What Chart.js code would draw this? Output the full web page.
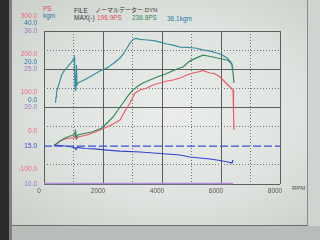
<!DOCTYPE html>
<html>
<head>
<meta charset="utf-8">
<script src="https://cdn.jsdelivr.net/npm/chart.js@4"></script>
<style>
  html, body { margin: 0; padding: 0; }
  body { width: 320px; height: 240px; overflow: hidden; position: relative; background: #b9bdb9;
         font-family: "Liberation Sans", "Noto Sans CJK JP", sans-serif; }
  #edge { position: absolute; left: 0; top: 0; width: 9px; height: 240px; background: #2b2b2b; }
  #edge2 { position: absolute; left: 9px; top: 0; width: 3px; height: 240px; background: #7d807d; }
  #paper { position: absolute; left: 12px; top: 0; width: 295px; height: 225px;
           background: radial-gradient(ellipse at 55% 50%, #eaede9 0%, #dfe3df 55%, #cacfca 100%);
           border-right: 1px solid #8a8d8a; border-bottom: 1px solid #6a6d6a; }
  #side { position: absolute; left: 308px; top: 0; width: 12px; height: 226px; background: #d0d4d0; }
  .t { position: absolute; font-size: 6.5px; line-height: 7px; white-space: nowrap; }
  #wrap { position: absolute; left: 0; top: 0; width: 320px; height: 240px; }
</style>
</head>
<body>
<div id="edge"></div><div id="edge2"></div><div id="paper"></div><div id="side"></div>

<div class="t" style="left:43px;top:5px;color:#e04858;">PS</div>
<div class="t" style="left:43px;top:12px;color:#2a74a8;">kgm</div>
<div class="t" style="left:74px;top:7px;color:#333;">FILE</div>
<div class="t" style="left:95px;top:6px;color:#333;font-size:6px;line-height:8px;">ノーマルデーター.DYN</div>
<div class="t" style="left:74px;top:14px;color:#333;">MAX(-)</div>
<div class="t" style="left:97px;top:14px;color:#e04858;">196.9PS</div>
<div class="t" style="left:132px;top:14px;color:#2f8a55;">236.8PS</div>
<div class="t" style="left:167px;top:15px;color:#2a7aa0;">36.1kgm</div>
<div class="t" style="left:292px;top:185px;color:#555;font-size:6px;">RPM</div>

<div id="wrap"><canvas id="dyno" width="320" height="240"></canvas></div>

<script>
// Vermogen (PS) - rode lijn
const redRpm = [339,542,712,881,1017,1068,1095,1153,1458,1729,1932,2136,2339,2576,2746,2915,3017,3085,3254,3492,
                3695,3932,4169,4373,4610,4847,5051,5220,5390,5525,5627,5763,5864,5966,6068,6203,6305,6407,6424,6441];
const redPs = [0,12.5,17.7,20.3,20.3,28.1,17.7,22.9,28.1,36.0,42.5,49.0,56.9,67.4,91.0,111.8,127.5,138.0,145.8,151.0,
               158.9,164.1,169.3,171.9,177.1,185.0,190.2,192.8,196.9,192.8,190.2,189.0,185.0,179.8,171.9,161.5,153.6,145.8,93.5,41.2];

// Vermogen (PS) - groene lijn
const greenRpm = [339,542,712,881,1017,1068,1095,1136,1288,1458,1627,1797,1966,2102,2237,2339,2508,2678,2847,3017,
                  3186,3356,3593,3831,4034,4271,4508,4712,4949,5153,5390,5559,5729,5864,6034,6203,6305,6373,6407,6441];
const greenPs = [0,12.5,20.3,25.5,28.1,38.6,20.3,28.1,30.8,33.4,36.0,41.2,46.4,56.9,67.4,75.2,93.5,111.8,130.1,145.8,
                 156.2,164.1,171.9,179.8,185.0,192.8,200.7,205.9,222.0,229.0,236.8,234.7,232.0,229.4,226.8,224.2,219.0,211.1,190.2,164.1];

// Koppel (kgm)
const torqueRpm = [390,407,424,475,525,600,678,770,847,939,1000,1027,1037,1051,1078,1102,1119,1153,1220,1424,
                   1661,1898,2136,2373,2576,2712,2814,2915,3017,3119,3254,3492,3729,3932,4169,4373,4610,4847,5119,5390,
                   5627,5864,6034,6203,6305,6373,6410];
const torqueKgm = [2.4,5.5,8.1,10.7,13.3,17.0,19.1,20.7,22.2,23.8,25.4,26.4,19.6,9.1,15.4,22.2,11.8,12.8,13.3,14.9,
                   17.0,19.1,20.7,23.3,25.9,28.5,31.1,33.7,35.6,36.1,35.6,35.3,35.0,34.2,33.2,32.6,31.6,31.4,31.1,30.1,
                   29.5,28.5,27.5,25.9,24.3,22.7,19.6];

// AFR (blauw) + referentielijn + onderlijn
const afrRpm = [339,542,746,949,1051,1085,1119,1390,1729,2136,2576,3254,3932,4610,4949,5288,5627,5966,6237,6373,6407];
const afrVal = [15.10,15.03,14.97,14.84,14.71,14.51,14.77,14.64,14.58,14.44,14.31,14.18,13.99,13.79,13.53,13.40,13.27,13.07,12.88,12.75,13.14];
const refRpm = [0, 8000];
const refAfr = [14.95, 14.95];
const baseRpm = [0, 6410];
const baseVal = [10.05, 10.05];

// As-instellingen
const rpmTicks = [0, 2000, 4000, 6000, 8000];
const psRange = [-100, 300];
const kgmRange = [-40, 40];
const afrRange = [10, 30];

const pts = (xs, ys) => xs.map((x, i) => ({ x: x, y: ys[i] }));
const font = { family: "Liberation Sans", size: 6.5 };

const line = (data, color, axis, extra) => Object.assign({
    data: data, borderColor: color, borderWidth: 1.2, pointRadius: 0,
    fill: false, tension: 0, yAxisID: axis
}, extra || {});

// rode en blauwe aslabels boven elkaar, rechts uitgelijnd naast de grafiek
const stackLabels = {
    id: "stackLabels",
    afterDraw(chart) {
        const ctx = chart.ctx;
        ctx.save();
        ctx.font = "6.5px 'Liberation Sans'";
        ctx.textAlign = "right";
        ctx.textBaseline = "middle";
        [["yP", -15, "#e86a78"], ["yK", -7.5, "#2a74a8"]].forEach(([id, off, col]) => {
            const s = chart.scales[id];
            s.ticks.forEach(t => {
                const txt = s.options.ticks.callback(t.value);
                if (!txt) return;
                ctx.fillStyle = col;
                ctx.fillText(txt, chart.chartArea.left - 7, s.getPixelForValue(t.value) + off);
            });
        });
        ctx.restore();
    }
};

new Chart(document.getElementById("dyno").getContext("2d"), {
    type: "line",
    data: {
        datasets: [
            line(pts(baseRpm, baseVal), "#b48ad6", "yA", { borderWidth: 1.5, clip: 3 }),
            line(pts(refRpm, refAfr), "#3a50dc", "yA", { borderDash: [8, 3], borderWidth: 1.3 }),
            line(pts(afrRpm, afrVal), "#3344cc", "yA"),
            line(pts(torqueRpm, torqueKgm), "#3a8ea0", "yK"),
            line(pts(greenRpm, greenPs), "#358a5c", "yP"),
            line(pts(redRpm, redPs), "#ea5a6a", "yP")
        ]
    },
    plugins: [stackLabels],
    options: {
        responsive: false,
        animation: false,
        layout: { padding: { left: 0, top: 31, right: 40, bottom: 44 } },
        plugins: { legend: { display: false }, tooltip: { enabled: false } },
        scales: {
            x: {
                type: "linear", min: 0, max: 8000,
                afterBuildTicks: s => { s.ticks = rpmTicks.map(v => ({ value: v })); },
                ticks: { color: "#555", font: font, padding: 3, labelOffset: -5, maxRotation: 0,
                         callback: v => String(v) },
                grid: { color: "#5c5f5c", drawTicks: false },
                border: { display: false },
                afterFit: s => { s.height = 12; }
            },
            x2: {
                type: "linear", position: "bottom", min: 0, max: 8000,
                ticks: { display: false, stepSize: 1000 },
                grid: { drawTicks: false, color: c => (c.tick && c.tick.value % 2000 === 0) ? "rgba(0,0,0,0)" : "#707370" },
                border: { display: false, dash: [1, 2] },
                afterFit: s => { s.height = 0; }
            },
            yA: {
                position: "left", weight: 1, min: afrRange[0], max: afrRange[1],
                ticks: { stepSize: 5, font: font, padding: 7, callback: v => v.toFixed(1),
                         color: c => c.tick && c.tick.value === 15 ? "#3a48c8" : "#9a72c4" },
                grid: { drawTicks: false, color: c => (c.tick && c.tick.value === 15) ? "rgba(0,0,0,0)" : "#5c5f5c" },
                border: { display: false },
                afterFit: s => { s.width = 44; }
            },
            yG: {
                position: "left", weight: 0, min: afrRange[0], max: afrRange[1],
                ticks: { display: false, stepSize: 2.5 },
                grid: { drawTicks: false, color: c => (c.tick && c.tick.value % 5 === 0) ? "rgba(0,0,0,0)" : "#707370" },
                border: { display: false, dash: [1, 2] },
                afterFit: s => { s.width = 0; }
            },
            yP: {
                position: "left", weight: 0, min: psRange[0], max: psRange[1],
                ticks: { display: false, stepSize: 100, callback: v => v.toFixed(1) },
                grid: { display: false },
                border: { display: false },
                afterFit: s => { s.width = 0; }
            },
            yK: {
                position: "left", weight: 0, min: kgmRange[0], max: kgmRange[1],
                ticks: { display: false, stepSize: 20, callback: v => v >= 0 ? v.toFixed(1) : "" },
                grid: { display: false },
                border: { display: false },
                afterFit: s => { s.width = 0; }
            }
        }
    }
});
</script>
</body>
</html>
